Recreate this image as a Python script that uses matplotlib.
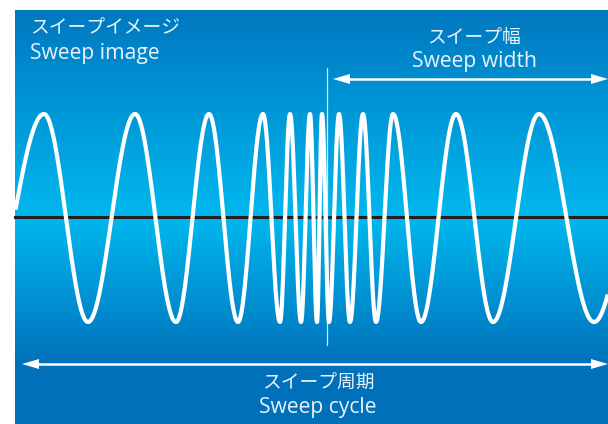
"""Sweep image: frequency-swept sine on a blue gradient panel."""
import numpy as np
import matplotlib
matplotlib.use("Agg")
import matplotlib.pyplot as plt

plt.rcParams["font.family"] = ["Noto Sans CJK JP", "DejaVu Sans"]

# ── data (x positions of the wave's crests and troughs, in pixels) ──────────
peaks_x = [44, 135, 209, 263, 290, 310, 322, 339, 363, 393, 456, 539, 652]
troughs_x = [-16, 88, 176, 238, 280, 301, 317, 329, 350, 376, 421, 493, 594]
center_x = 327            # sweep centre marker
width_span = (333, 608)   # sweep width arrow
cycle_span = (22, 608)    # sweep cycle arrow

label_image = ["スイープイメージ", "Sweep image"]
label_width = ["スイープ幅", "Sweep width"]
label_cycle = ["スイープ周期", "Sweep cycle"]

W, H = 608, 424
panel = (15, 608, 10, 424)  # x0, x1, y0, y1
baseline_y = 217
amp = 104
text_col = "#e8f3fb"
latin = ["Open Sans", "DejaVu Sans"]

fig = plt.figure(figsize=(W / 100, H / 100), dpi=100)
ax = fig.add_axes([0, 0, 1, 1])

# ── gradient background ─────────────────────────────────────────────────────
ys = np.linspace(panel[2], panel[3], 400)
stops_y = [10, 218, 365, 424]
stops_c = np.array([[0, 120, 192], [0, 184, 238], [0, 113, 187], [0, 112, 186]]) / 255
grad = np.stack([np.interp(ys, stops_y, stops_c[:, k]) for k in range(3)], axis=-1)
ax.imshow(grad[:, None, :], extent=(panel[0], panel[1], panel[3], panel[2]),
          aspect="auto", zorder=0)
ax.set_xlim(0, W)
ax.set_ylim(H, 0)
ax.axis("off")

# ── swept wave: cosine half-cycles between successive extrema ───────────────
ext = sorted([(x, 1) for x in peaks_x] + [(x, -1) for x in troughs_x])
xs, vals = [], []
for (xa, sa), (xb, _) in zip(ext[:-1], ext[1:]):
    t = np.linspace(xa, xb, 60)
    xs.append(t)
    vals.append(sa * np.cos(np.pi * (t - xa) / (xb - xa)))
xs = np.concatenate(xs)
vals = np.concatenate(vals)
keep = (xs >= panel[0]) & (xs <= panel[1])
ax.plot(xs[keep], baseline_y + 1 - amp * vals[keep], color="white", lw=3.0,
        solid_capstyle="butt", zorder=3)

ax.plot([panel[0], panel[1]], [baseline_y, baseline_y], color="#231f20",
        lw=2.2, zorder=2)
ax.plot([center_x, center_x], [68, 345], color="white", lw=0.9, alpha=0.8,
        zorder=4)

# ── double-headed arrows ────────────────────────────────────────────────────
head_len, head_half = 17, 5
for (x0, x1), y in [(width_span, 79), (cycle_span, 364)]:
    ax.plot([x0 + head_len - 2, x1 - head_len + 2], [y, y], color="white",
            lw=1.8, solid_capstyle="butt", zorder=5)
    ax.fill([x0, x0 + head_len, x0 + head_len], [y, y - head_half, y + head_half],
            color="white", lw=0, zorder=5)
    ax.fill([x1, x1 - head_len, x1 - head_len], [y, y - head_half, y + head_half],
            color="white", lw=0, zorder=5)

# ── labels ──────────────────────────────────────────────────────────────────
ax.text(30, 28, label_image[0], fontsize=13.5, color=text_col, va="center")
ax.text(30, 53, label_image[1], fontsize=15.2, color=text_col, va="center",
        family=latin)
ax.text(474, 38, label_width[0], fontsize=13.5, color=text_col, va="center",
        ha="center")
ax.text(474, 61, label_width[1], fontsize=15.2, color=text_col, va="center",
        ha="center", family=latin)
ax.text(318, 383, label_cycle[0], fontsize=13.5, color=text_col, va="center",
        ha="center")
ax.text(318, 407, label_cycle[1], fontsize=15.2, color=text_col, va="center",
        ha="center", family=latin)

fig.savefig("out.png", dpi=100)
plt.close(fig)
